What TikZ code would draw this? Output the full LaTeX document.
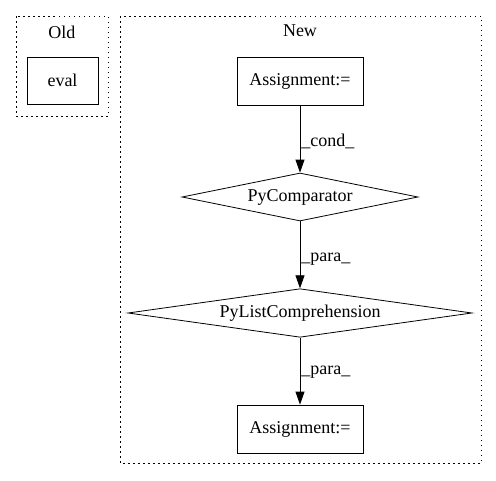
\documentclass[tikz,border=0pt]{standalone}
\usepackage{fontspec}
\setmainfont{Liberation Serif}
\usetikzlibrary{shapes.geometric,arrows.meta,positioning}

\tikzset{
	cluster/.style={draw, line width=0.8pt, dash pattern=on 1.5pt off 3.5pt},
	opbox/.style={draw, line width=0.8pt, rectangle, inner sep=0pt, minimum width=126pt, minimum height=48pt},
	opdiamond/.style={draw, line width=0.8pt, diamond, inner sep=0pt, aspect=5},
	flow/.style={line width=0.8pt, -{Triangle[length=13pt,width=9pt]}},
	flowlabel/.style={anchor=west, inner sep=1pt}
}

\begin{document}
\begin{tikzpicture}[x=1pt, y=-1pt, every node/.style={font=\fontsize{18}{20}\selectfont}]
			\useasboundingbox (0,0) rectangle (496,480);
			% clusters
			\draw[cluster] (16,16) rectangle (108,116);
			\node (oldtitle) at (62,32) {Old};
			\draw[cluster] (120,16) rectangle (481,463);
			\node (newtitle) at (300,31) {New};
			% nodes
			\node[opbox, minimum width=71pt, minimum height=47pt] (eval) at (62.5,80.5) {eval};
			\node[opbox] (assigntop) at (300,81) {Assignment:=};
			\node[opdiamond, minimum width=236pt, minimum height=48pt] (cmp) at (300,197) {PyComparator};
			\node[opdiamond, minimum width=344pt, minimum height=48pt] (listcomp) at (300,313) {PyListComprehension};
			\node[opbox] (assignbot) at (300,429) {Assignment:=};
			% edges
			\draw[flow] (assigntop) -- node[flowlabel, yshift=-2pt] (condlabel) {\_cond\_} (cmp);
			\draw[flow] (cmp) -- node[flowlabel, yshift=-4pt] (paralabela) {\_para\_} (listcomp);
			\draw[flow] (listcomp) -- node[flowlabel, yshift=-1pt] (paralabelb) {\_para\_} (assignbot);
		\end{tikzpicture}
\end{document}
